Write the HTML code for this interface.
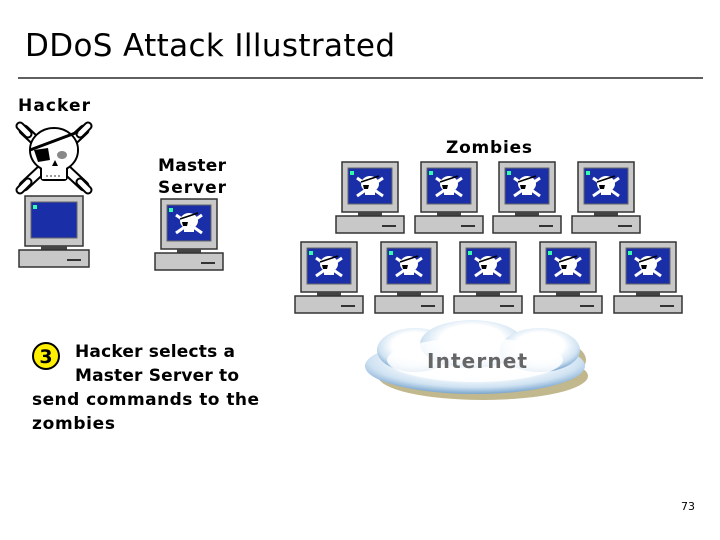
<!DOCTYPE html>
<html><head><meta charset="utf-8"><style>
html,body{margin:0;padding:0;background:#fff;width:720px;height:540px;overflow:hidden}
</style></head><body>
<svg width="720" height="540" viewBox="0 0 720 540" xmlns="http://www.w3.org/2000/svg" font-family="'DejaVu Sans','Liberation Sans',sans-serif">
<defs>
<radialGradient id="cl" cx="50%" cy="40%" r="60%">
<stop offset="0.5" stop-color="#ffffff"/><stop offset="0.8" stop-color="#cfe2f2"/><stop offset="1" stop-color="#7aa6cf"/>
</radialGradient>
<g id="skull">
<path d="M-13 -8 L13 10 M13 -8 L-13 10" stroke="#fff" stroke-width="3"/>
<ellipse cx="0" cy="-2" rx="9" ry="8" fill="#fff"/>
<rect x="-5" y="4" width="10" height="5" fill="#fff"/>
<path d="M-7 -1 L-1 -1 L-2 3 L-6 3 Z" fill="#000"/>
<path d="M-9 -4 L9 -10" stroke="#000" stroke-width="1.5"/>
</g>
<g id="pc">
<rect x="6" y="0" width="56" height="50" fill="#c8c8c8" stroke="#333" stroke-width="1.5"/>
<rect x="12" y="6" width="44" height="36" fill="#1a2ea8" stroke="#666"/>
<rect x="14" y="9" width="4" height="4" fill="#3fa"/>
<use href="#skull" x="34" y="24"/>
<rect x="22" y="50" width="24" height="4" fill="#444"/>
<rect x="0" y="54" width="68" height="17" fill="#c8c8c8" stroke="#333" stroke-width="1.5"/>
<line x1="46" y1="64" x2="60" y2="64" stroke="#333" stroke-width="2"/>
</g>
</defs>
<text x="25" y="56" font-size="31" textLength="370" font-family="'DejaVu Sans',sans-serif">DDoS Attack Illustrated</text>
<line x1="18" y1="78" x2="703" y2="78" stroke="#000" stroke-width="1.2"/>
<g font-weight="bold" font-size="17">
<text x="18" y="111" textLength="72">Hacker</text>
<text x="158" y="171" textLength="68">Master</text>
<text x="158" y="193" textLength="68">Server</text>
<text x="446" y="153" textLength="86">Zombies</text>
<text x="75" y="357" textLength="160">Hacker selects a</text>
<text x="75" y="381" textLength="164">Master Server to</text>
<text x="32" y="405" textLength="227">send commands to the</text>
<text x="32" y="429" textLength="83">zombies</text>
</g>
<circle cx="46" cy="356" r="13" fill="#ffef00" stroke="#000" stroke-width="2"/>
<text x="46" y="363" font-size="19" font-weight="bold" text-anchor="middle">3</text>
<!-- hacker skull -->
<g stroke-linecap="round">
<path d="M24 130 L84 186 M84 130 L24 186" stroke="#000" stroke-width="11"/>
<path d="M24 130 L84 186 M84 130 L24 186" stroke="#fff" stroke-width="7"/>
<path d="M20 126 L28 134 M88 126 L80 134 M20 190 L28 182 M88 190 L80 182" stroke="#000" stroke-width="9"/>
<path d="M20 126 L28 134 M88 126 L80 134 M20 190 L28 182 M88 190 L80 182" stroke="#fff" stroke-width="5"/>
</g>
<ellipse cx="54" cy="150" rx="24" ry="22" fill="#fff" stroke="#000" stroke-width="2"/>
<rect x="41" y="164" width="26" height="16" rx="3" fill="#fff" stroke="#000" stroke-width="2"/>
<ellipse cx="54" cy="150" rx="23" ry="21" fill="#fff"/>
<rect x="42" y="165" width="24" height="14" fill="#fff"/>
<path d="M30 150 L78 132" stroke="#000" stroke-width="3"/>
<path d="M34 150 L48 148 L50 160 L38 162 Z" fill="#000"/>
<ellipse cx="62" cy="155" rx="5" ry="4" fill="#888"/>
<path d="M52 166 L55 160 L58 166 Z" fill="#000"/>
<path d="M46 176 L62 176" stroke="#999" stroke-width="2" stroke-dasharray="2 2"/>
<!-- hacker pc -->
<g transform="translate(19,196)">
<rect x="6" y="0" width="58" height="50" fill="#c8c8c8" stroke="#333" stroke-width="1.5"/>
<rect x="12" y="6" width="46" height="36" fill="#1a2ea8" stroke="#666"/>
<rect x="14" y="9" width="4" height="4" fill="#3fa"/>
<rect x="22" y="50" width="26" height="4" fill="#444"/>
<rect x="0" y="54" width="70" height="17" fill="#c8c8c8" stroke="#333" stroke-width="1.5"/>
<line x1="48" y1="64" x2="62" y2="64" stroke="#333" stroke-width="2"/>
</g>
<use href="#pc" x="155" y="199"/>
<use href="#pc" x="336" y="162"/>
<use href="#pc" x="415" y="162"/>
<use href="#pc" x="493" y="162"/>
<use href="#pc" x="572" y="162"/>
<use href="#pc" x="295" y="242"/>
<use href="#pc" x="375" y="242"/>
<use href="#pc" x="454" y="242"/>
<use href="#pc" x="534" y="242"/>
<use href="#pc" x="614" y="242"/>
<!-- cloud -->
<g fill="#a89a5c" opacity="0.7" transform="translate(8,8)">
<ellipse cx="475" cy="368" rx="105" ry="24"/>
<ellipse cx="415" cy="352" rx="36" ry="20"/>
<ellipse cx="472" cy="345" rx="48" ry="22"/>
<ellipse cx="540" cy="352" rx="38" ry="20"/>
</g>
<g fill="url(#cl)">
<ellipse cx="475" cy="366" rx="110" ry="28"/>
<ellipse cx="415" cy="350" rx="38" ry="22"/>
<ellipse cx="472" cy="344" rx="52" ry="24"/>
<ellipse cx="540" cy="350" rx="40" ry="22"/>
</g>
<ellipse cx="475" cy="360" rx="88" ry="22" fill="#fff" opacity="0.85"/>
<text x="427" y="368" font-size="20" font-weight="bold" fill="#666" textLength="100">Internet</text>
<text x="681" y="510" font-size="11" fill="#000">73</text>
</svg>
</body></html>
